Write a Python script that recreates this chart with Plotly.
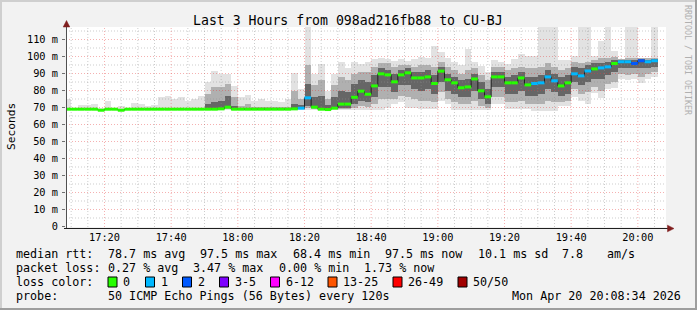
import pandas as pd
import plotly.graph_objects as go

# ---------------- data ----------------
title_text = "Last 3 Hours from 098ad216fb88 to CU-BJ"
step_start = "2026-04-20 17:08:00"
step_seconds = 120

median = [
    69.0, 69.0, 69.0, 69.0, 69.0, 68.4, 69.0, 69.0, 68.4, 69.0,
    69.0, 69.0, 69.0, 69.0, 69.0, 69.0, 69.0, 69.0, 69.0, 69.0,
    69.0, 69.0, 69.0, 69.2, 70.2, 69.0, 69.0, 69.0, 69.0, 69.0,
    69.0, 69.0, 69.0, 69.0, 69.2, 69.6, 75.7, 70.2, 69.0, 68.8,
    69.6, 72.0, 72.0, 76.0, 79.6, 77.8, 82.7, 89.8, 89.2, 85.1,
    89.2, 90.4, 87.4, 87.4, 88.0, 84.1, 91.4, 86.3, 84.5, 81.6,
    82.1, 86.8, 79.8, 76.3, 88.0, 88.0, 84.5, 84.5, 87.4, 83.3,
    84.1, 84.5, 88.0, 85.7, 82.7, 84.5, 89.8, 88.6, 91.5, 92.7,
    93.3, 93.9, 95.9, 96.9, 96.9, 95.9, 97.5, 96.9, 97.5,
]
loss_level = [
    0, 0, 0, 0, 0, 0, 0, 0, 0, 0,
    0, 0, 0, 0, 0, 0, 0, 0, 0, 0,
    0, 0, 0, 0, 0, 0, 0, 0, 0, 0,
    0, 0, 0, 0, 0, 1, 1, 0, 0, 0,
    0, 0, 0, 0, 0, 0, 0, 0, 0, 0,
    0, 0, 0, 0, 0, 0, 0, 0, 0, 0,
    0, 0, 0, 0, 0, 0, 0, 0, 0, 0,
    1, 1, 1, 1, 0, 0, 1, 1, 1, 0,
    1, 1, 0, 1, 1, 2, 2, 1, 1,
]
ping_lo = [
    68.8, 68.8, 68.8, 68.8, 68.8, 68.2, 68.8, 68.8, 68.2, 68.8,
    68.8, 68.8, 68.8, 68.8, 68.8, 68.8, 68.8, 68.8, 68.8, 68.8,
    68.8, 68.6, 68.6, 68.6, 68.6, 68.6, 68.6, 68.6, 68.6, 68.6,
    68.6, 68.6, 68.6, 68.6, 68.6, 68.6, 68.6, 68.6, 68.6, 68.4,
    68.6, 68.6, 68.6, 68.6, 68.6, 68.6, 68.6, 68.6, 70.0, 72.0,
    73.0, 70.0, 70.0, 69.0, 69.0, 69.0, 74.0, 72.0, 68.8, 68.8,
    68.8, 68.8, 68.8, 68.8, 72.0, 72.0, 69.0, 69.0, 69.0, 69.0,
    68.2, 68.2, 68.2, 68.2, 71.0, 71.0, 76.0, 74.0, 72.0, 78.8,
    75.5, 80.8, 81.2, 86.7, 86.0, 87.0, 84.7, 87.0, 88.0,
]
ping_p10 = [
    69.0, 69.0, 69.0, 69.0, 69.0, 68.4, 69.0, 69.0, 68.4, 69.0,
    69.0, 69.0, 69.0, 69.0, 69.0, 69.0, 69.0, 69.0, 69.0, 69.0,
    69.0, 68.8, 68.8, 68.9, 69.2, 68.8, 68.8, 68.8, 68.8, 68.8,
    68.8, 68.8, 68.8, 68.8, 68.9, 69.0, 69.5, 69.2, 68.8, 68.6,
    69.0, 69.2, 69.2, 70.0, 71.0, 70.5, 72.0, 75.0, 75.0, 75.0,
    77.0, 76.0, 75.0, 74.0, 74.0, 73.0, 79.0, 75.0, 73.0, 72.0,
    72.0, 74.0, 71.0, 70.0, 76.0, 76.0, 73.0, 73.0, 74.0, 72.0,
    72.0, 72.0, 74.0, 73.0, 73.0, 74.0, 81.0, 78.0, 79.0, 82.0,
    80.0, 84.0, 85.0, 90.0, 89.0, 90.0, 88.0, 90.0, 91.0,
]
ping_p25 = [
    69.0, 69.0, 69.0, 69.0, 69.0, 68.4, 69.0, 69.0, 68.4, 69.0,
    69.0, 69.0, 69.0, 69.0, 69.0, 69.0, 69.0, 69.0, 69.0, 69.0,
    69.0, 68.9, 68.9, 69.0, 69.6, 68.9, 68.9, 68.9, 68.9, 68.9,
    68.9, 68.9, 68.9, 68.9, 69.0, 69.2, 71.0, 69.6, 68.9, 68.7,
    69.2, 70.0, 70.0, 72.0, 74.0, 73.0, 76.0, 82.0, 82.0, 79.0,
    83.0, 83.0, 81.0, 80.0, 81.0, 78.0, 85.0, 80.0, 78.0, 76.0,
    76.0, 80.0, 75.0, 72.0, 82.0, 82.0, 78.0, 78.0, 80.0, 77.0,
    77.0, 78.0, 81.0, 79.0, 77.0, 78.0, 85.0, 83.0, 85.0, 87.0,
    87.0, 89.0, 91.0, 93.0, 93.0, 93.0, 93.0, 93.0, 94.0,
]
ping_p75 = [
    69.0, 69.0, 69.0, 69.0, 69.0, 68.4, 69.0, 69.0, 68.4, 69.0,
    69.0, 69.0, 69.0, 69.0, 69.0, 69.0, 69.0, 69.0, 69.0, 69.0,
    69.0, 72.0, 73.0, 74.0, 77.0, 71.0, 69.5, 69.8, 69.4, 69.4,
    69.4, 69.4, 69.3, 69.4, 72.0, 71.5, 84.0, 76.0, 77.0, 71.5,
    76.0, 80.0, 79.0, 84.0, 86.0, 85.0, 89.0, 93.0, 92.0, 90.0,
    92.0, 93.0, 91.0, 91.0, 92.0, 89.0, 94.0, 90.0, 88.0, 86.0,
    87.0, 90.0, 85.0, 81.0, 91.0, 91.0, 88.0, 89.0, 91.0, 88.0,
    88.0, 89.0, 92.0, 90.0, 88.0, 89.0, 94.0, 93.0, 95.0, 96.0,
    96.0, 97.0, 98.0, 98.0, 98.0, 98.0, 98.5, 98.0, 98.5,
]
ping_p90 = [
    69.0, 69.0, 69.0, 69.0, 69.0, 68.4, 69.0, 69.0, 68.4, 69.0,
    69.0, 69.0, 69.0, 69.0, 69.0, 69.0, 69.0, 69.0, 69.0, 69.0,
    69.0, 78.0, 82.0, 82.0, 84.0, 76.0, 71.0, 72.0, 70.5, 70.5,
    70.5, 70.5, 70.2, 70.5, 80.0, 75.0, 95.0, 83.0, 86.0, 75.0,
    83.0, 88.0, 86.0, 90.0, 91.0, 91.0, 94.0, 96.0, 96.0, 94.0,
    95.0, 95.0, 94.0, 95.0, 95.0, 94.0, 97.0, 94.0, 92.0, 90.0,
    92.0, 93.0, 89.0, 86.0, 94.0, 94.0, 92.0, 93.0, 94.0, 93.0,
    93.0, 94.0, 96.0, 94.0, 92.0, 93.0, 97.0, 96.0, 97.0, 98.0,
    99.0, 99.0, 100.0, 98.5, 99.0, 99.0, 99.0, 99.0, 99.0,
]
ping_hi = [
    75.0, 70.0, 71.4, 71.5, 72.0, 69.5, 74.0, 70.0, 70.6, 70.0,
    72.5, 72.0, 71.0, 71.4, 75.9, 76.9, 74.9, 75.9, 73.9, 75.0,
    76.9, 85.1, 91.6, 89.6, 89.6, 82.4, 75.9, 77.3, 74.0, 75.0,
    74.0, 74.0, 73.0, 75.0, 90.2, 80.8, 125.0, 89.6, 95.5, 79.8,
    89.6, 97.0, 93.5, 96.5, 95.5, 96.5, 98.8, 99.4, 98.4, 97.5,
    98.4, 97.5, 98.4, 100.0, 99.4, 106.3, 102.4, 99.4, 96.5, 94.9,
    104.7, 96.5, 94.5, 90.6, 97.8, 96.9, 95.5, 98.4, 101.4, 100.4,
    100.4, 125.0, 125.0, 125.0, 97.8, 97.8, 100.4, 125.0, 125.0, 100.4,
    109.2, 125.0, 103.3, 98.8, 125.0, 125.0, 99.4, 99.4, 125.0,
]

loss_labels = ["0", "1", "2", "3-5", "6-12", "13-25", "26-49", "50/50"]
loss_colors = ["#26ff00", "#00b8ff", "#0059ff", "#7e00ff",
               "#ff00ff", "#ff5500", "#ff0000", "#a10000"]

y_tick_values = [0, 10, 20, 30, 40, 50, 60, 70, 80, 90, 100, 110]
y_tick_labels = ["0", "10 m", "20 m", "30 m", "40 m", "50 m", "60 m",
                 "70 m", "80 m", "90 m", "100 m", "110 m"]
x_tick_labels = ["17:20", "17:40", "18:00", "18:20", "18:40",
                 "19:00", "19:20", "19:40", "20:00"]

rtt_names = ["avg", "max", "min", "now"]
rtt_values = [78.7, 97.5, 68.4, 97.5]
rtt_sd = 10.1
rtt_ams = 7.8
loss_names = ["avg", "max", "min", "now"]
loss_values = [0.27, 3.47, 0.00, 1.73]
probe_text = "50 ICMP Echo Pings (56 Bytes) every 120s"
stamp_text = "Mon Apr 20 20:08:34 2026"

# ---------------- geometry / style ----------------
W, H = 697, 310
L, R, T, B = 66, 31, 27, 83
PW, PH = W - L - R, H - T - B
MONO = "DejaVu Sans Mono"
day = "2026-04-20 "

x_lo = pd.Timestamp(day + "17:08:27")
x_hi = x_lo + pd.Timedelta(hours=3)
px_per_unit = 1.7
y_lo = -0.5 / px_per_unit
y_hi = y_lo + PH / px_per_unit

n = len(median)
starts = pd.date_range(pd.Timestamp(step_start), periods=n, freq=f"{step_seconds}s")
step = pd.Timedelta(seconds=step_seconds)
centers = starts + step / 2
ends = starts + step


def pxx(px):
    return (px - L) / PW


def pxy(py):
    return (H - B - py) / PH


fig = go.Figure()

# smoke layers
smoke = [(ping_lo, ping_hi, "#e2e2e2"),
         (ping_p10, ping_p90, "#b0b0b0"),
         (ping_p25, ping_p75, "#666666")]
for lo, hi, col in smoke:
    fig.add_trace(go.Bar(
        x=centers, base=lo, y=[h - l for l, h in zip(lo, hi)],
        width=step_seconds * 1000, marker=dict(color=col, line=dict(width=0)),
        hoverinfo="skip", showlegend=False))

# grid lines (drawn above the smoke)
minor_x, major_x = [], []
t = pd.Timestamp(day + "17:10")
while t < x_hi:
    (major_x if t.minute % 20 == 0 else minor_x).append(t)
    t += pd.Timedelta(minutes=5)
minor_y = [v for v in range(5, 120, 5) if v % 10]
major_y = [v for v in range(10, 120, 10)]


def vlines(ts):
    xs, ys = [], []
    for tt in ts:
        xs += [tt, tt, None]
        ys += [y_lo, y_hi, None]
    return xs, ys


def hlines(vs):
    xs, ys = [], []
    for v in vs:
        xs += [x_lo, x_hi, None]
        ys += [v, v, None]
    return xs, ys


grid_minor = "rgba(143,143,143,0.45)"
grid_major = "rgba(230,60,60,0.4)"
for (xs, ys), col in [(vlines(minor_x), grid_minor), (hlines(minor_y), grid_minor),
                      (vlines(major_x), grid_major), (hlines(major_y), grid_major)]:
    fig.add_trace(go.Scatter(x=xs, y=ys, mode="lines",
                             line=dict(color=col, width=1, dash="1px,2px"),
                             hoverinfo="skip", showlegend=False))

# median: thin dark step line + loss-colored segments
fig.add_trace(go.Scatter(
    x=list(starts) + [ends[-1]], y=median + [median[-1]], mode="lines",
    line=dict(color="#202020", width=1, shape="hv"),
    hoverinfo="skip", showlegend=False))
for lvl, col in enumerate(loss_colors):
    xs, ys = [], []
    for s, e, m, l in zip(starts, ends, median, loss_level):
        if l == lvl:
            xs += [s, e, None]
            ys += [m, m, None]
    if xs:
        fig.add_trace(go.Scatter(x=xs, y=ys, mode="lines",
                                 line=dict(color=col, width=3),
                                 hoverinfo="skip", showlegend=False))

# ---------------- annotations ----------------
ann = []


def text(s, px, py, size=11.7, anchor="left", color="#000000", angle=0):
    ann.append(dict(text=s, x=pxx(px), y=pxy(py), xref="paper", yref="paper",
                    xanchor=anchor, yanchor="middle", showarrow=False,
                    textangle=angle, borderpad=0, borderwidth=0,
                    font=dict(family=MONO, size=size, color=color)))


text(title_text, 348, 20, size=13.2, anchor="center")
text("Seconds", 11, 127, size=11.2, anchor="center", angle=-90)
text("RRDTOOL / TOBI OETIKER", 688, 60, size=8.3, anchor="center",
     color="#b0b0b0", angle=90)

ly = [254, 268, 282, 296]
text("median rtt:", 16, ly[0])
rtt_x = [107.5, 200, 293, 385]
for xp, nm, v in zip(rtt_x, rtt_names, rtt_values):
    text(f"{v:.1f} ms {nm}", xp, ly[0])
text(f"{rtt_sd:.1f} ms sd", 478, ly[0])
text(f"{rtt_ams:.1f}", 562, ly[0])
text("am/s", 606.5, ly[0])

text("packet loss:", 16, ly[1])
loss_x = [107.5, 193, 278.5, 364]
for xp, nm, v in zip(loss_x, loss_names, loss_values):
    text(f"{v:.2f} % {nm}", xp, ly[1])

text("loss color:", 16, ly[2])
sw_x = [108, 145.5, 182.5, 219.5, 270.5, 328, 393, 458]
shapes = []
for xp, lab, col in zip(sw_x, loss_labels, loss_colors):
    shapes.append(dict(type="rect", xref="paper", yref="paper",
                       x0=pxx(xp), x1=pxx(xp + 9), y0=pxy(287), y1=pxy(277),
                       fillcolor=col, line=dict(color="#000000", width=1)))
    text(lab, xp + 15, ly[2])

text("probe:", 16, ly[3])
text(probe_text, 107.5, ly[3])
text(stamp_text, 681, ly[3], anchor="right")

# ---------------- frame, axes, arrows ----------------
def seg(x0, y0, x1, y1, col, w):
    shapes.append(dict(type="line", xref="paper", yref="paper",
                       x0=pxx(x0), y0=pxy(y0), x1=pxx(x1), y1=pxy(y1),
                       line=dict(color=col, width=w)))


seg(0, 1, W, 1, "#cfcfcf", 2)
seg(1, 0, 1, H, "#cfcfcf", 2)
seg(0, H - 1, W, H - 1, "#9e9e9e", 2)
seg(W - 1, 0, W - 1, H, "#9e9e9e", 2)
seg(66.5, 229, 66.5, 24, "#505050", 1)
seg(64, 228.5, 669, 228.5, "#1f1f1f", 1)


def tri(pts, col):
    p = "M " + " L ".join(f"{pxx(a)},{pxy(b)}" for a, b in pts) + " Z"
    shapes.append(dict(type="path", xref="paper", yref="paper", path=p,
                       fillcolor=col, line=dict(color=col, width=0.5)))


tri([(66.5, 20.5), (63.2, 27), (69.8, 27)], "#801f1f")
tri([(674, 228.5), (667.5, 225.2), (667.5, 231.8)], "#801f1f")

fig.update_layout(
    width=W, height=H, margin=dict(l=L, r=R, t=T, b=B, pad=0),
    paper_bgcolor="#f2f2f2", plot_bgcolor="#ffffff",
    barmode="overlay", bargap=0, showlegend=False,
    annotations=ann, shapes=shapes,
    xaxis=dict(type="date", range=[x_lo, x_hi], showgrid=False, zeroline=False,
               showline=False, ticks="",
               tickvals=[pd.Timestamp(day + s) for s in x_tick_labels],
               ticktext=x_tick_labels, ticklabelstandoff=3,
               tickfont=dict(family=MONO, size=10.3, color="#000000")),
    yaxis=dict(range=[y_lo, y_hi], showgrid=False, zeroline=False, showline=False,
               tickvals=y_tick_values, ticktext=y_tick_labels,
               ticks="outside", ticklen=3, tickcolor="#707070", tickwidth=1,
               ticklabelstandoff=2,
               tickfont=dict(family=MONO, size=10.3, color="#000000")),
)

fig.write_html("out.html")
